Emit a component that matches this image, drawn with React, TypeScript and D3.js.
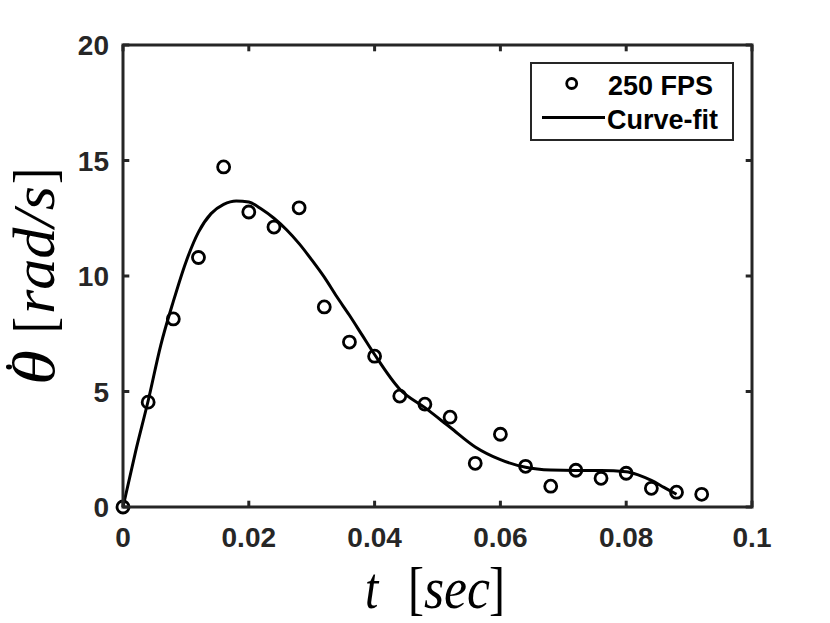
import React from "react";
import * as d3 from "d3";

const xTicks = [0, 0.02, 0.04, 0.06, 0.08, 0.1];
const yTicks = [0, 5, 10, 15, 20];

const sampleT = [0, 0.004, 0.008, 0.012, 0.016, 0.02, 0.024, 0.028, 0.032, 0.036, 0.04, 0.044, 0.048, 0.052, 0.056, 0.06, 0.064, 0.068, 0.072, 0.076, 0.08, 0.084, 0.088, 0.092];
const sampleV = [0, 4.54, 8.14, 10.8, 14.72, 12.77, 12.12, 12.95, 8.66, 7.14, 6.53, 4.8, 4.45, 3.89, 1.89, 3.15, 1.76, 0.9, 1.59, 1.24, 1.46, 0.81, 0.64, 0.55];

const fitT = [0, 0.002, 0.004, 0.006, 0.008, 0.01, 0.012, 0.014, 0.016, 0.018, 0.02, 0.022, 0.024, 0.026, 0.028, 0.03, 0.032, 0.034, 0.036, 0.038, 0.04, 0.044, 0.048, 0.052, 0.056, 0.06, 0.064, 0.068, 0.072, 0.076, 0.08, 0.082, 0.084, 0.086, 0.088];
const fitV = [0, 2.4, 4.6, 7.0, 8.9, 10.6, 11.9, 12.7, 13.1, 13.25, 13.2, 12.9, 12.5, 12.0, 11.4, 10.7, 9.95, 9.1, 8.3, 7.45, 6.6, 5.1, 4.3, 3.45, 2.6, 2.05, 1.72, 1.6, 1.58, 1.58, 1.53, 1.38, 1.15, 0.85, 0.55];

const legendLabels = ["250 FPS", "Curve-fit"];

const W = 830, H = 623;
const L = 123, R = 752, T = 45, B = 507;
const AX = "#262626";

export default function App() {
  const x = d3.scaleLinear().domain([0, 0.1]).range([L, R]);
  const y = d3.scaleLinear().domain([0, 20]).range([B, T]);
  const line = d3.line<number>().x((_, i) => x(fitT[i])).y((d) => y(d)).curve(d3.curveMonotoneX);
  const tickLen = 6.3;
  const tickFont = "'Liberation Sans', Arial, Helvetica, sans-serif";
  const serif = "'Liberation Serif', 'DejaVu Serif', serif";
  const FS = 48;
  return (
    <svg width={W} height={H} style={{ position: "absolute", left: 0, top: 0, background: "#fff" }}>
      <rect x={0} y={0} width={W} height={H} fill="#fff" />
      {/* curve */}
      <path d={line(fitV) || ""} fill="none" stroke="#000" strokeWidth={3} strokeLinejoin="round" />
      {/* markers */}
      {sampleV.map((v, i) => (
        <circle key={i} cx={x(sampleT[i])} cy={y(v)} r={6} fill="none" stroke="#000" strokeWidth={2.8} />
      ))}
      {/* axes box */}
      <rect x={L} y={T} width={R - L} height={B - T} fill="none" stroke={AX} strokeWidth={3} />
      {xTicks.map((t, i) => (
        <g key={"x" + i}>
          <line x1={x(t)} x2={x(t)} y1={B} y2={B - tickLen} stroke={AX} strokeWidth={3} />
          <line x1={x(t)} x2={x(t)} y1={T} y2={T + tickLen} stroke={AX} strokeWidth={3} />
          <text x={x(t)} y={547} textAnchor="middle" fontFamily={tickFont} fontWeight="bold" fontSize={28} fill={AX}>
            {String(t)}
          </text>
        </g>
      ))}
      {yTicks.map((v, i) => (
        <g key={"y" + i}>
          <line x1={L} x2={L + tickLen} y1={y(v)} y2={y(v)} stroke={AX} strokeWidth={3} />
          <line x1={R} x2={R - tickLen} y1={y(v)} y2={y(v)} stroke={AX} strokeWidth={3} />
          <text x={109} y={y(v) + 10} textAnchor="end" fontFamily={tickFont} fontWeight="bold" fontSize={28} fill={AX}>
            {String(v)}
          </text>
        </g>
      ))}
      {/* legend */}
      <rect x={531} y={63} width={202} height={77} fill="#fff" stroke={AX} strokeWidth={2} />
      <circle cx={571.7} cy={83.5} r={5} fill="none" stroke="#000" strokeWidth={2.8} />
      <text x={608} y={95} fontFamily={tickFont} fontWeight="bold" fontSize={27} fill="#000">{legendLabels[0]}</text>
      <line x1={542} x2={605} y1={117.5} y2={117.5} stroke="#000" strokeWidth={3} />
      <text x={607} y={129} fontFamily={tickFont} fontWeight="bold" fontSize={27} fill="#000">{legendLabels[1]}</text>
      {/* x axis label */}
      <g transform="translate(0,608) scale(1,1.25)" fontFamily={serif} fontSize={FS} fill="#000">
        <text x={365} y={0} fontStyle="italic">t</text>
        <text x={408} y={0}>[</text>
        <text x={424} y={0} fontStyle="italic" textLength={66} lengthAdjust="spacingAndGlyphs">sec</text>
        <text x={489} y={0}>]</text>
      </g>
      {/* y axis label (rotated) */}
      <g transform="translate(54,0) rotate(-90) scale(1,1.25)" fontFamily={serif} fontSize={FS} fill="#000">
        <text x={-385} y={0} fontStyle="italic" textLength={35} lengthAdjust="spacingAndGlyphs">{"\u03B8"}</text>
        <circle cx={-367} cy={-36} r={2.4} fill="#000" />
        <text x={-333} y={0}>[</text>
        <text x={-314} y={0} fontStyle="italic" textLength={128} lengthAdjust="spacingAndGlyphs">rad/s</text>
        <text x={-184} y={0}>]</text>
      </g>
    </svg>
  );
}
